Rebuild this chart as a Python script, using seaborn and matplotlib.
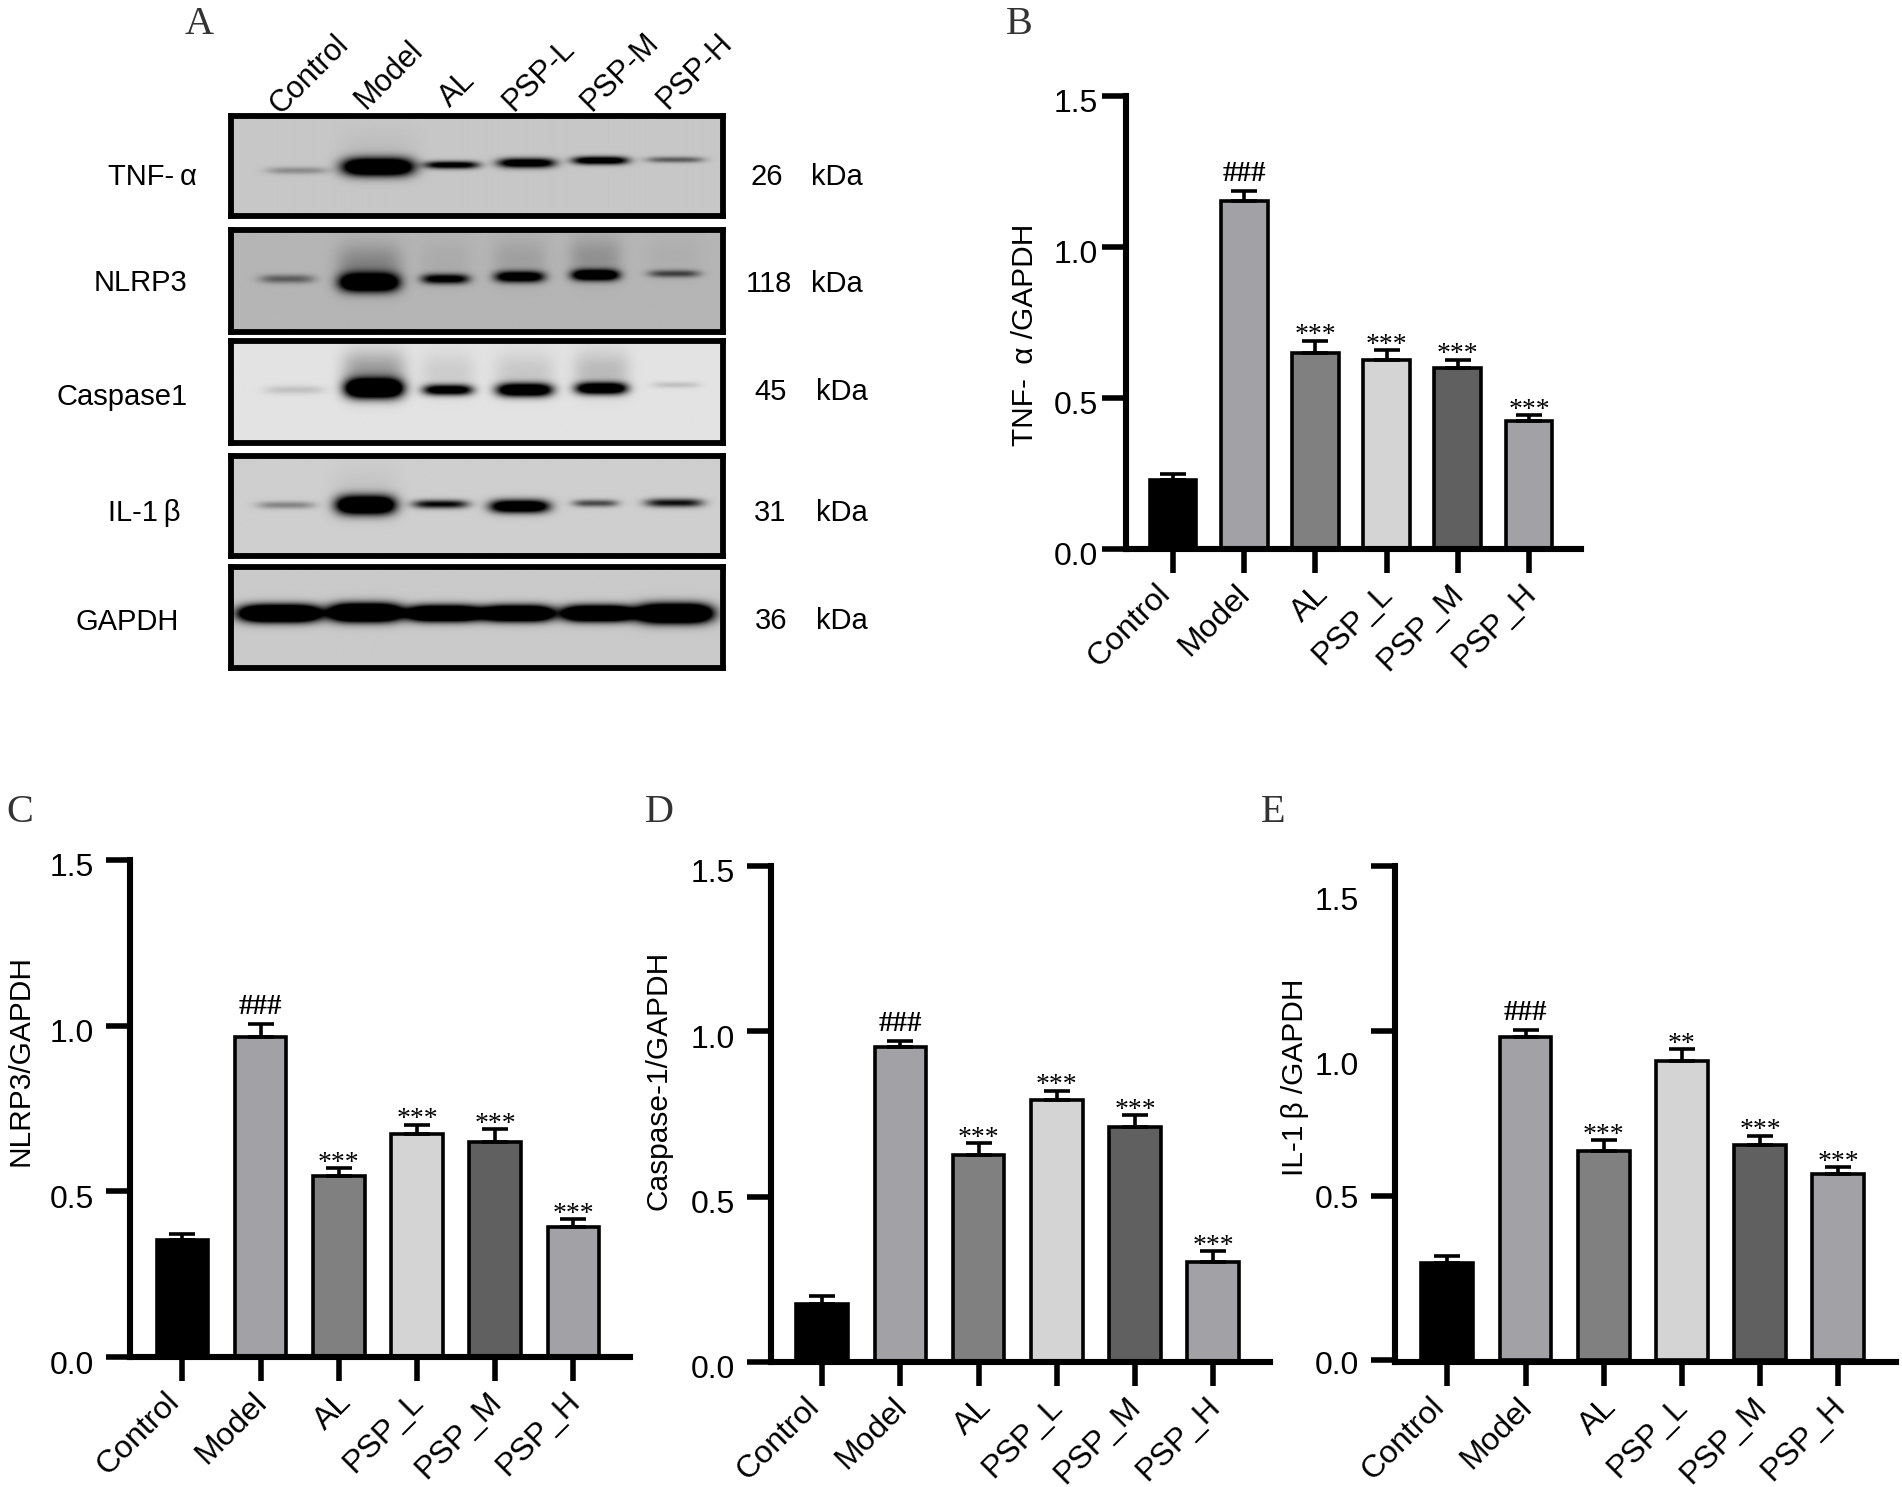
import numpy as np
import pandas as pd
import seaborn as sns
import matplotlib.pyplot as plt
from matplotlib.transforms import ScaledTranslation

W, H = 1902, 1487

categories = ['Control', 'Model', 'AL', 'PSP_L', 'PSP_M', 'PSP_H']
bar_colors = ['#000000', '#a2a2a6', '#808080', '#d4d4d4', '#606060', '#a2a2a6']

# bar heights and top of the error bars
tnf_mean = [0.227, 1.153, 0.648, 0.626, 0.600, 0.424]
tnf_top = [0.248, 1.186, 0.690, 0.658, 0.626, 0.443]
nlrp3_mean = [0.352, 0.967, 0.547, 0.672, 0.648, 0.391]
nlrp3_top = [0.371, 1.005, 0.569, 0.700, 0.687, 0.415]
casp_mean = [0.175, 0.954, 0.626, 0.792, 0.712, 0.303]
casp_top = [0.199, 0.971, 0.661, 0.821, 0.746, 0.335]
il1b_mean = [0.294, 0.982, 0.634, 0.908, 0.654, 0.564]
il1b_top = [0.317, 1.003, 0.668, 0.944, 0.682, 0.586]

tnf_marks = ['###', '***', '***', '***', '***']
nlrp3_marks = ['###', '***', '***', '***', '***']
casp_marks = ['###', '***', '***', '***', '***']
il1b_marks = ['###', '***', '**', '***', '***']

# blot panel: band strength per lane, read by eye
lanes = ['Control', 'Model', 'AL', 'PSP-L', 'PSP-M', 'PSP-H']
blot_names = ['TNF-\u2009α', 'NLRP3', 'Caspase1', 'IL-1\u2009β', 'GAPDH']
blot_sizes = ['26', '118', '45', '31', '36']
blot_bg = [0.78, 0.71, 0.89, 0.81, 0.79]
band_strength = [
    [0.30, 1.9, 1.2, 1.4, 1.4, 0.55],
    [0.50, 1.9, 1.2, 1.4, 1.6, 0.65],
    [0.15, 2.0, 1.3, 1.6, 1.5, 0.15],
    [0.36, 1.9, 1.0, 1.6, 0.65, 0.95],
    [2.6, 2.6, 2.4, 2.4, 2.4, 2.6],
]
band_x = [
    [.134, .298, .448, .600, .750, .902],
    [.113, .280, .435, .586, .740, .900],
    [.128, .290, .440, .596, .752, .903],
    [.111, .273, .425, .586, .740, .900],
    [.099, .272, .432, .582, .745, .900],
]
band_y = [
    [.546, .510, .490, .470, .445, .437],
    [.485, .520, .485, .464, .447, .434],
    [.480, .465, .480, .480, .465, .430],
    [.496, .496, .487, .509, .478, .474],
    [.460, .452, .460, .460, .460, .460],
]
band_thick = [
    [.036, .088, .038, .048, .040, .030],
    [.042, .088, .048, .054, .054, .036],
    [.042, .092, .052, .064, .058, .030],
    [.036, .092, .042, .064, .036, .042],
    [.080, .085, .075, .075, .075, .090],
]
band_half = [
    [.062, .072, .055, .058, .056, .058],
    [.055, .060, .048, .050, .048, .052],
    [.060, .058, .050, .056, .052, .048],
    [.058, .060, .056, .060, .046, .058],
    [.082, .072, .076, .072, .072, .076],
]
band_haze = [
    [0, .05, 0, 0, 0, 0],
    [0, .28, .06, .12, .20, .04],
    [0, .32, .10, .12, .18, 0],
    [0, .05, 0, 0, 0, 0],
    [0, 0, 0, 0, 0, 0],
]

sns.set_theme(style='ticks', rc={'text.color': 'black', 'axes.edgecolor': 'black',
                                 'xtick.color': 'black', 'ytick.color': 'black',
                                 'axes.labelcolor': 'black'})
plt.rcParams['font.family'] = ['Liberation Sans', 'DejaVu Sans']
plt.rcParams['axes.facecolor'] = 'white'

fig = plt.figure(figsize=(W / 100, H / 100), dpi=100, facecolor='white')


def px_axes(left, top, right, bottom):
    return fig.add_axes([left / W, 1 - bottom / H, (right - left) / W, (bottom - top) / H])


def px_text(x, y, s, **kw):
    fig.text(x / W, 1 - y / H, s, **kw)


def nudge(lab, dx, dy):
    # move a tick label by a few pixels
    lab.set_transform(lab.get_transform() + ScaledTranslation(dx / 100, dy / 100, fig.dpi_scale_trans))


xlabel_dx = [-18, -9, -2, -9, -9, -8]


def bar_panel(box, first, step, mean, top, marks, ylabel, label_xy, pad=9, e_style=False):
    left, ytop, right, bottom = box
    ax = px_axes(left, ytop, right, bottom)
    df = pd.DataFrame({'group': categories, 'value': mean})
    sns.barplot(data=df, x='group', y='value', hue='group', palette=bar_colors, legend=False,
                edgecolor='black', linewidth=2.6, width=0.66, saturation=1, errorbar=None, ax=ax)
    xs = np.arange(len(categories))
    up = np.array(top) - np.array(mean)
    ax.errorbar(xs, mean, yerr=[np.zeros(len(xs)), up], fmt='none', ecolor='black',
                elinewidth=2.6, capsize=9.5, capthick=2.6, zorder=1)
    ax.set_xlim((left - first) / step, (right - first) / step)
    ax.set_ylim(0, 1.5)
    sns.despine(ax=ax)
    for side in ['left', 'bottom']:
        ax.spines[side].set_linewidth(4.4)
    ax.set_xlabel('')
    ax.set_ylabel('')
    ax.tick_params(axis='x', length=17, width=4, pad=8)
    ax.set_xticks(xs)
    ax.set_xticklabels(categories, rotation=45, ha='right', rotation_mode='anchor', fontsize=23)
    for lab, dx in zip(ax.get_xticklabels(), xlabel_dx):
        nudge(lab, dx, 5)
    if e_style:
        # labels of the top ticks sit lower than the ticks themselves in this panel
        ax.set_yticks([0, 0.5, 1.0, 1.5], ['', '', '', ''])
        ax.tick_params(axis='y', length=17, width=4)
        ax.set_yticks([-0.005, 0.497, 0.9, 1.4], ['0.0', '0.5', '1.0', '1.5'], minor=True)
        ax.tick_params(axis='y', which='minor', length=17, width=0, pad=pad, labelsize=23)
    else:
        ax.set_yticks([0, 0.5, 1.0, 1.5], ['0.0', '0.5', '1.0', '1.5'])
        ax.tick_params(axis='y', length=17, width=4, pad=pad, labelsize=23)
        for lab in ax.get_yticklabels():
            nudge(lab, 0, -5)
    for i, m in enumerate(marks):
        k = i + 1
        off = 7 if m == '###' else -1
        ax.annotate(m, (k, top[k]), xytext=(0, off), textcoords='offset points', ha='center',
                    va='baseline', fontsize=21 if m == '###' else 20, color='black',
                    fontweight='bold' if m == '###' else 'normal',
                    family=['Liberation Serif'], annotation_clip=False)
    px_text(label_xy[0], label_xy[1], ylabel, rotation=90, ha='center', va='center', fontsize=21.5)
    return ax


bar_panel((1126, 96, 1581, 549), 1173, 71.2, tnf_mean, tnf_top, tnf_marks,
          'TNF-\u2009 α /GAPDH', (1025, 335), pad=3)
bar_panel((130, 860, 630, 1357), 182.4, 78.2, nlrp3_mean, nlrp3_top, nlrp3_marks,
          'NLRP3/GAPDH', (21, 1060))
bar_panel((771, 866, 1270, 1362), 822.2, 78.2, casp_mean, casp_top, casp_marks,
          'Caspase-1/GAPDH', (659, 1080))
bar_panel((1395, 866, 1896, 1362), 1447.3, 78.2, il1b_mean, il1b_top, il1b_marks,
          'IL-1\u2009β /GAPDH', (1295, 1077), e_style=True)

# blots
blot_rows = [(116.5, 216), (229.6, 331.7), (341, 442.6), (455.6, 555.6), (567.4, 668.3)]
blot_left, blot_right = 230.5, 722.6
size_x = [767, 769, 771, 770, 771]
size_y = [177, 284, 392, 513, 621]
kda_x = [837, 837, 842, 842, 842]
name_x = [152, 141, 122, 144, 127]
name_y = [177, 283, 397, 513, 622]

for r, (y0, y1) in enumerate(blot_rows):
    ax = px_axes(blot_left, y0, blot_right, y1)
    yy, xx = np.mgrid[0:1:200j, 0:1:500j]
    dark = np.zeros_like(xx)
    for j in range(6):
        cx, cy = band_x[r][j], band_y[r][j]
        hw, th = band_half[r][j], band_thick[r][j]
        across = np.exp(-((xx - cx) / hw) ** 4)
        dark += band_strength[r][j] * across * np.exp(-((yy - cy) / th) ** 2)
        smear = band_haze[r][j] * np.exp(-((xx - cx) / (hw * 1.1)) ** 4)
        dark += smear * np.exp(-((yy - (cy - 0.17)) / 0.2) ** 2)
    img = blot_bg[r] * (1 - np.clip(dark, 0, 1))
    ax.imshow(img, cmap='gray', vmin=0, vmax=1, aspect='auto', extent=(0, 1, 1, 0))
    ax.set_xticks([])
    ax.set_yticks([])
    ax.grid(False)
    for s in ax.spines.values():
        s.set_visible(True)
        s.set_linewidth(4.2)
        s.set_color('black')
    px_text(name_x[r], name_y[r], blot_names[r], ha='center', va='center', fontsize=21)
    px_text(size_x[r], size_y[r], blot_sizes[r], ha='center', va='center', fontsize=21)
    px_text(kda_x[r], size_y[r], 'kDa', ha='center', va='center', fontsize=21)

lane_x = [280, 366, 450, 513, 592, 667]
lane_y = [115, 110, 108, 112, 112, 110]
for name, x, y in zip(lanes, lane_x, lane_y):
    px_text(x, y, name, rotation=45, ha='left', va='baseline', rotation_mode='anchor', fontsize=22)

letter_x = [199, 1019, 20, 659, 1273]
letter_y = [25, 24, 812, 812, 812]
for s, x, y in zip('ABCDE', letter_x, letter_y):
    px_text(x, y, s, ha='center', va='center', fontsize=29, color='#333333',
            family=['Liberation Serif'])

plt.savefig('out.png', dpi=100, facecolor='white')
